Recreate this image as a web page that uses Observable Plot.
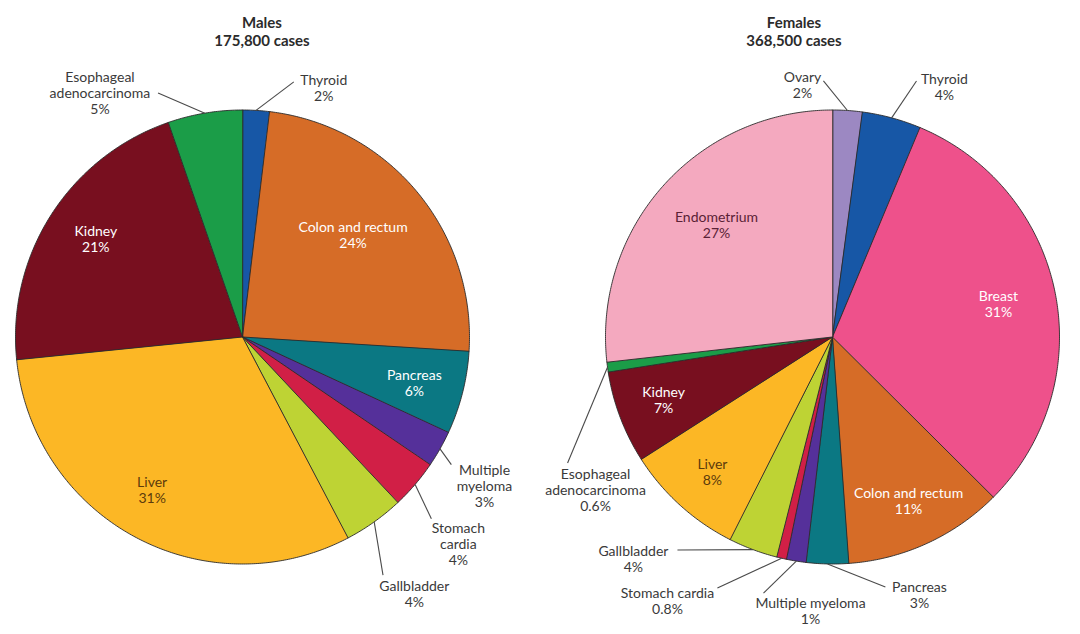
<!DOCTYPE html>
<html><head><meta charset="utf-8">
<script src="https://cdn.jsdelivr.net/npm/d3@7"></script>
<script src="https://cdn.jsdelivr.net/npm/@observablehq/plot@0.6"></script>
<style>
body{margin:0;background:#fff;font-family:Lato,"Open Sans",sans-serif;}
#wrap{position:relative;width:1080px;height:634px;overflow:hidden;}
.title{position:absolute;top:13px;width:240px;font-weight:bold;font-size:15px;line-height:18px;color:#2b2b2b;text-align:center;}
.pie{position:absolute;top:0;}
</style></head><body>
<div id="wrap"></div>
<script>
// ---- data ----
const maleTitle = "Males";
const maleCases = "175,800 cases";
const maleCategories = ["Thyroid","Colon and rectum","Pancreas","Multiple myeloma","Stomach cardia","Gallbladder","Liver","Kidney","Esophageal adenocarcinoma"];
// slice shares as drawn
const maleShares = [1.9,24.1,5.9,2.6,3.5,4.3,31.1,21.3,5.3];
// percentages as printed
const malePercentLabels = ["2%","24%","6%","3%","4%","4%","31%","21%","5%"];

const femaleTitle = "Females";
const femaleCases = "368,500 cases";
const femaleCategories = ["Ovary","Thyroid","Breast","Colon and rectum","Pancreas","Multiple myeloma","Stomach cardia","Gallbladder","Liver","Kidney","Esophageal adenocarcinoma","Endometrium"];
const femaleShares = [2.1,4.2,31.2,11.4,3.0,1.4,0.7,3.5,8.5,6.6,0.7,26.8];
const femalePercentLabels = ["2%","4%","31%","11%","3%","1%","0.8%","4%","8%","7%","0.6%","27%"];

// ---- styles ----
const sliceColor = {
  "Thyroid":"#1757a6","Colon and rectum":"#d66c27","Pancreas":"#0b7883","Multiple myeloma":"#55309a",
  "Stomach cardia":"#d11f46","Gallbladder":"#bed334","Liver":"#fcb725","Kidney":"#780f1f",
  "Esophageal adenocarcinoma":"#1b9d48","Ovary":"#9c88c2","Breast":"#ee518b","Endometrium":"#f4a9bf"
};
const outerText = "#3a3a3a";

// ---- label layout (unit-circle coordinates) ----
const maleLayout = {
  "Thyroid":{pos:[0.358,1.097],leader:[0.226,1.124]},
  "Colon and rectum":{pos:[0.487,0.449],color:"#fff"},
  "Pancreas":{pos:[0.757,-0.201],color:"#fff"},
  "Multiple myeloma":{text:"Multiple\nmyeloma",pos:[1.066,-0.655],leader:[0.920,-0.562]},
  "Stomach cardia":{text:"Stomach\ncardia",pos:[0.951,-0.912],leader:[0.832,-0.801]},
  "Gallbladder":{pos:[0.757,-1.133],leader:[0.619,-1.049]},
  "Liver":{pos:[-0.398,-0.675],color:"#5c3b0c"},
  "Kidney":{pos:[-0.646,0.431],color:"#fff"},
  "Esophageal adenocarcinoma":{text:"Esophageal\nadenocarcinoma",pos:[-0.628,1.075],leader:[-0.372,1.075]}
};
const femaleLayout = {
  "Ovary":{pos:[-0.132,1.110],leader:[-0.040,1.128]},
  "Thyroid":{pos:[0.493,1.101],leader:[0.370,1.128]},
  "Breast":{pos:[0.731,0.145],color:"#fff"},
  "Colon and rectum":{pos:[0.335,-0.722],color:"#fff"},
  "Pancreas":{pos:[0.383,-1.137],leader:[0.233,-1.101]},
  "Multiple myeloma":{pos:[-0.097,-1.207],leader:[-0.304,-1.128]},
  "Stomach cardia":{pos:[-0.727,-1.163],leader:[-0.507,-1.106]},
  "Gallbladder":{pos:[-0.877,-0.978],leader:[-0.683,-0.938]},
  "Liver":{pos:[-0.529,-0.595],color:"#5c3b0c"},
  "Kidney":{pos:[-0.744,-0.278],color:"#fff"},
  "Esophageal adenocarcinoma":{text:"Esophageal\nadenocarcinoma",pos:[-1.044,-0.674],leader:[-1.167,-0.555]},
  "Endometrium":{pos:[-0.511,0.496],color:"#5a2236"}
};

function drawPie(cats, shares, pctLabels, layout, frame) {
  const arcs = d3.pie().sort(null).value(d => d.value)(cats.map((c,i)=>({name:c,value:shares[i],pct:pctLabels[i]})));
  const pts = [];
  const leaders = [];
  const labels = [];
  arcs.forEach(a => {
    const name = a.data.name;
    const n = Math.max(2, Math.ceil((a.endAngle - a.startAngle) / (Math.PI/360)));
    pts.push({name, x:0, y:0});
    for (let k = 0; k <= n; k++) {
      const t = a.startAngle + (a.endAngle - a.startAngle) * k / n;
      pts.push({name, x:Math.sin(t), y:Math.cos(t)});
    }
    const mid = (a.startAngle + a.endAngle) / 2;
    const L = layout[name];
    if (L.leader) leaders.push({x1:Math.sin(mid), y1:Math.cos(mid), x2:L.leader[0], y2:L.leader[1]});
    labels.push({x:L.pos[0], y:L.pos[1], text:(L.text || name) + "\n" + a.data.pct, color:L.color || outerText});
  });
  return Plot.plot({
    width: frame.w, height: 634, margin: 0,
    x: {domain:[-1,1], range:[frame.cx - frame.r, frame.cx + frame.r], axis:null},
    y: {domain:[-1,1], range:[frame.cy + frame.r, frame.cy - frame.r], axis:null},
    color: {type:"identity"},
    style: {fontFamily:"Lato, 'Open Sans', sans-serif", background:"transparent", overflow:"visible"},
    marks: [
      Plot.line(pts, {x:"x", y:"y", z:"name", fill:d => sliceColor[d.name], stroke:"#2a2a2a", strokeWidth:0.9, strokeLinejoin:"round", curve:"linear-closed"}),
      Plot.link(leaders, {x1:"x1", y1:"y1", x2:"x2", y2:"y2", stroke:"#4a4a4a", strokeWidth:1.1}),
      Plot.text(labels, {x:"x", y:"y", text:"text", fill:"color", fontSize:14, lineHeight:1.15, textAnchor:"middle"})
    ]
  });
}

const wrap = document.getElementById("wrap");
function addTitle(title, cases, cx) {
  const d = document.createElement("div");
  d.className = "title";
  d.style.left = (cx - 120) + "px";
  d.innerHTML = title + "<br>" + cases;
  wrap.appendChild(d);
}
const m = drawPie(maleCategories, maleShares, malePercentLabels, maleLayout, {w:540, cx:242, cy:336.5, r:227});
m.classList.add("pie"); m.style.left = "0px";
wrap.appendChild(m);
const f = drawPie(femaleCategories, femaleShares, femalePercentLabels, femaleLayout, {w:540, cx:292, cy:336.5, r:227});
f.classList.add("pie"); f.style.left = "540px";
wrap.appendChild(f);
addTitle(maleTitle, maleCases, 262);
addTitle(femaleTitle, femaleCases, 794);
</script>
</body></html>
